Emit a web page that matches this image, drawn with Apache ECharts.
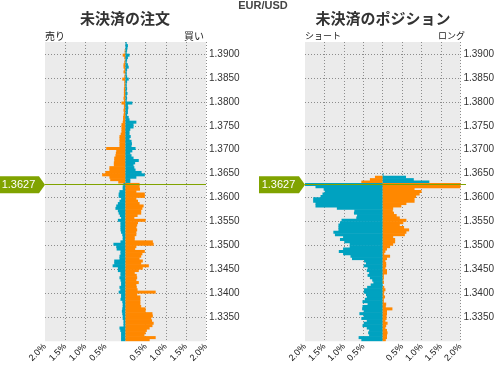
<!DOCTYPE html>
<html><head><meta charset="utf-8">
<script src="https://cdn.jsdelivr.net/npm/echarts@6/dist/echarts.min.js"></script>
<style>html,body{margin:0;padding:0;background:#fff}#c{width:497px;height:365px}</style>
</head><body><div id="c"></div>
<script>
// ---------- data ----------
const pair = 'EUR/USD';
const titleOrders = '未決済の注文';
const titlePositions = '未決済のポジション';
const sideLabels = { orderLeft: '売り', orderRight: '買い', posLeft: 'ショート', posRight: 'ロング' };
const currentPrice = 1.3627;
const priceTop = 1.3925, priceBottom = 1.3300, bucketSize = 0.0005;
const yTickLabels = ['1.3900','1.3850','1.3800','1.3750','1.3700','1.3650','1.3600','1.3550','1.3500','1.3450','1.3400','1.3350'];
const xTickValues = [-2, -1.5, -1, -0.5, 0, 0.5, 1, 1.5, 2];

// price buckets (lower bound), top to bottom: 1.3920 ... 1.3300
const buckets = [];
for (let k = 0; k < Math.round((priceTop - priceBottom) / bucketSize); k++) {
  buckets.push((priceTop - bucketSize * (k + 1)).toFixed(4));
}

// open orders (%), top (1.3920) to bottom (1.3300)
const orderSell = [
 0,0,0,0.02,0.02, 0.07,0.03,0.02,0.03,0.05, 0.05,0.03,0.05,0.02,0.03, 0.08,0.03,0.03,0.03,0.04, 0.04,0.04,0.04,0.05,0.04,
 0.10,0.04,0.04,0.05,0.04, 0.05,0.06,0.06,0.07,0.10, 0.10,0.10,0.10,0.12,0.15, 0.15,0.15,0.15,0.15,0.48, 0.23,0.24,0.25,0.28,0.28,
 0.29,0.29,0.40,0.40,0.50, 0.58,0.40,0.38,0.18,0.05, 0.07,0.07,0.15,0.17,0.17, 0.11,0.15,0.19,0.23,0.25, 0.19,0.17,0.14,0.11,0.19,
 0.125,0.125,0.125,0.125,0.11, 0.08,0.07,0.07,0.125,0.30, 0.23,0.22,0.125,0.125,0.15, 0.15,0.28,0.28,0.32,0.19, 0.19,0.125,0.125,0.15,0.125,
 0.11,0.11,0.15,0.13,0.17, 0.11,0.11,0.125,0.08,0.07, 0.07,0.08,0.09,0.08,0.07, 0.07,0.05,0.05,0.05,0.15, 0.13,0.11,0.11,0.11,0.11
];
const orderBuy = [
 0.03,0.06,0.05,0.04,0.03, 0.10,0.06,0.04,0.03,0.06, 0.08,0.04,0.03,0.03,0.04, 0.08,0.04,0.03,0.03,0.04, 0.03,0.05,0.03,0.04,0.03,
 0.17,0.06,0.07,0.06,0.06, 0.04,0.08,0.10,0.27,0.20, 0.20,0.12,0.10,0.10,0.13, 0.10,0.15,0.16,0.15,0.25, 0.17,0.12,0.15,0.20,0.33,
 0.24,0.20,0.22,0.25,0.40, 0.48,0.27,0.12,0.12,0.35, 0.35,0.36,0.27,0.48,0.48, 0.27,0.31,0.35,0.45,0.42, 0.39,0.39,0.30,0.22,0.50,
 0.31,0.29,0.27,0.29,0.27, 0.27,0.23,0.23,0.68,0.70, 0.27,0.24,0.48,0.42,0.39, 0.35,0.43,0.39,0.58,0.43, 0.33,0.23,0.28,0.29,0.27,
 0.33,0.27,0.28,0.30,0.75, 0.29,0.37,0.37,0.37,0.37, 0.39,0.50,0.50,0.67,0.68, 0.64,0.66,0.70,0.67,0.60, 0.53,0.50,0.47,0.75,0.60
];
// open positions (%), top to bottom
const posShort = [
 0,0,0,0,0, 0,0,0,0,0, 0,0,0,0,0, 0,0,0,0,0, 0,0,0,0,0,
 0,0,0,0,0, 0,0,0,0,0, 0,0,0,0,0, 0,0,0,0,0, 0,0,0,0,0,
 0,0,0,0,0, 0,0.20,0.33,0.55,2.0, 1.73,1.52,1.49,1.55,1.60, 1.79,1.79,1.73,1.73,1.18, 0.73,0.74,0.66,0.68,1.06,
 1.10,1.14,1.14,1.14,1.27, 1.23,1.02,1.10,0.99,0.85, 0.85,1.02,1.13,1.02,0.83, 0.79,0.48,0.43,0.49,0.39, 0.41,0.35,0.39,0.33,0.27,
 0.24,0.31,0.40,0.48,0.49, 0.43,0.41,0.46,0.52,0.39, 0.52,0.53,0.49,0.60,0.49, 0.55,0.41,0.49,0.52,0.41, 0.35,0.375,0.35,0.62,0.55
];
const posLong = [
 0,0,0,0,0, 0,0,0,0,0, 0,0,0,0,0, 0,0,0,0,0, 0,0,0,0,0,
 0,0,0,0,0, 0,0,0,0,0, 0,0,0,0,0, 0,0,0,0,0, 0,0,0,0,0,
 0,0,0,0,0, 0.02,0.60,0.80,1.20,2.0, 2.0,0.82,1.00,0.95,0.86, 0.82,0.82,0.61,0.48,0.27, 0.26,0.29,0.36,0.44,0.61,
 0.53,0.44,0.55,0.68,0.61, 0.57,0.27,0.32,0.32,0.27, 0.19,0.11,0.07,0.04,0.19, 0.11,0.07,0.09,0.09,0.07, 0.11,0.11,0.03,0.03,0.02,
 0.03,0,0.04,0.07,0.04, 0.03,0.06,0.03,0.03,0.09, 0.08,0.25,0.11,0.11,0.10, 0.10,0.07,0.125,0.09,0.07, 0.11,0.125,0.11,0.11,0.08
];

// ---------- style ----------
const ORANGE = '#ff8800', TEAL = '#00a2c0', GREEN = '#80a300';
const GRID_BG = '#ebebeb', GRID_LINE = '#8c8c8c';
const CJK = '"Noto Sans CJK JP", sans-serif';
const NUM = '"Liberation Sans Narrow", "Liberation Sans", sans-serif';
const layouts = [{left:45, top:42, width:161, height:300}, {left:305, top:42, width:161, height:300}];

const isAbove = i => parseFloat(buckets[i]) > currentPrice;
const leftColor = p => isAbove(p.dataIndex) ? ORANGE : TEAL;
const rightColor = p => isAbove(p.dataIndex) ? TEAL : ORANGE;

function xAxis(g) {
  return {
    gridIndex: g, type: 'value', min: xTickValues[0], max: xTickValues[xTickValues.length-1], interval: 0.5,
    axisLine: {show:false}, axisTick: {show:false},
    axisLabel: {rotate: 45, margin: 4, fontSize: 9, color: '#111', fontFamily: 'Liberation Sans',
      formatter: v => Math.abs(v) < 1e-9 ? '' : Math.abs(v).toFixed(1) + '%'},
    splitLine: {show: true, showMinLine: false, lineStyle: {color: GRID_LINE, type: [1, 2], width: 1}}
  };
}
function catAxis(g) {
  return {gridIndex: g, type: 'category', data: buckets, inverse: true, show: false};
}
function priceAxis(g) {
  return {
    gridIndex: g, type: 'value', position: 'right', min: priceBottom, max: priceTop, interval: 0.005,
    axisLine: {show:false}, axisTick: {show:false},
    axisLabel: {margin: 3, fontSize: 10, color: '#333', fontFamily: NUM,
      formatter: v => { const s = v.toFixed(4); return yTickLabels.indexOf(s) >= 0 ? s : ''; }},
    splitLine: {show: true, showMinLine: false, showMaxLine: false, lineStyle: {color: GRID_LINE, type: [1, 2], width: 1}}
  };
}
function barSeries(xi, yi, values, sign, colorFn) {
  return {
    type: 'bar', xAxisIndex: xi, yAxisIndex: yi, stack: 's' + xi,
    data: values.map(v => sign * v), barWidth: 3,
    itemStyle: {color: colorFn}, silent: true
  };
}

const chart = echarts.init(document.getElementById('c'), null, {renderer: 'canvas'});
chart.setOption({
  animation: false,
  grid: layouts.map(l => Object.assign({show: true, backgroundColor: GRID_BG, borderWidth: 0}, l)),
  xAxis: [xAxis(0), xAxis(1)],
  yAxis: [catAxis(0), priceAxis(0), catAxis(1), priceAxis(1)],
  series: [
    barSeries(0, 0, orderSell, -1, leftColor),
    barSeries(0, 0, orderBuy, 1, rightColor),
    barSeries(1, 2, posShort, -1, leftColor),
    barSeries(1, 2, posLong, 1, rightColor)
  ]
});

// ---------- annotations ----------
const txt = (x, y, text, font, align, fill, z) => ({
  type: 'text', x: x, y: y, z: z || 100,
  style: {text: text, font: font, fill: fill || '#333', textAlign: align, align: align,
          textVerticalAlign: 'middle', verticalAlign: 'middle'}
});
const graphics = [
  txt(263, 6, pair, 'bold 11px "Liberation Sans", sans-serif', 'center', '#444'),
  txt(125, 18, titleOrders, 'bold 15px ' + CJK, 'center', '#333'),
  txt(383, 18, titlePositions, 'bold 15px ' + CJK, 'center', '#333'),
  txt(45, 36, sideLabels.orderLeft, '10px ' + CJK, 'left', '#222'),
  txt(204, 36, sideLabels.orderRight, '10px ' + CJK, 'right', '#222'),
  txt(305, 36, sideLabels.posLeft, '9px ' + CJK, 'left', '#222'),
  txt(465, 36, sideLabels.posRight, '9px ' + CJK, 'right', '#222')
];
[1, 3].forEach((yi, g) => {
  const L = layouts[g];
  const y = chart.convertToPixel({yAxisIndex: yi}, currentPrice);
  const yl = Math.floor(y) + 0.5;
  graphics.push({type: 'line', z: 100, shape: {x1: L.left, y1: yl, x2: L.left + L.width, y2: yl},
                 style: {stroke: GREEN, lineWidth: 1}});
  const x0 = L.left - 46;
  graphics.push({type: 'polygon', z: 101,
    shape: {points: [[x0, y - 8.5], [L.left - 6, y - 8.5], [L.left, y], [L.left - 6, y + 8.5], [x0, y + 8.5]]},
    style: {fill: GREEN}});
  graphics.push(txt(x0 + 19.5, y, currentPrice.toFixed(4), '11px "Liberation Sans", sans-serif', 'center', '#fff', 105));
});
chart.setOption({graphic: graphics});
</script></body></html>
